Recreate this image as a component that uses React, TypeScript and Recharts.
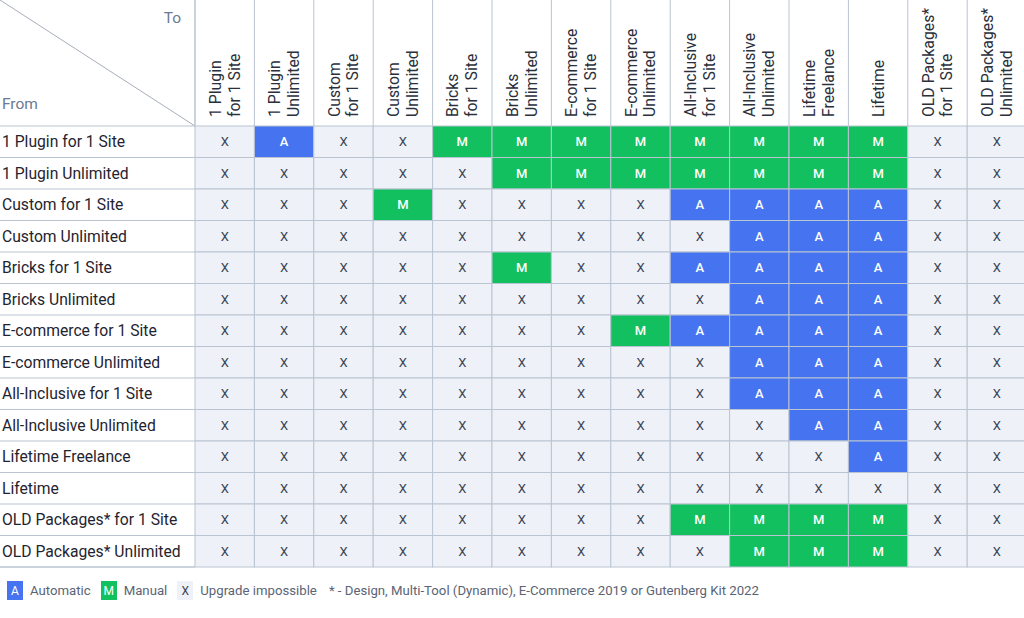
import React from 'react';
import { ScatterChart, Scatter, XAxis, YAxis } from 'recharts';

const ROWS = [
  '1 Plugin for 1 Site',
  '1 Plugin Unlimited',
  'Custom for 1 Site',
  'Custom Unlimited',
  'Bricks for 1 Site',
  'Bricks Unlimited',
  'E-commerce for 1 Site',
  'E-commerce Unlimited',
  'All-Inclusive for 1 Site',
  'All-Inclusive Unlimited',
  'Lifetime Freelance',
  'Lifetime',
  'OLD Packages* for 1 Site',
  'OLD Packages* Unlimited',
];

const COL_LINE1 = [
  '1 Plugin', '1 Plugin', 'Custom', 'Custom', 'Bricks', 'Bricks', 'E-commerce',
  'E-commerce', 'All-Inclusive', 'All-Inclusive', 'Lifetime', 'Lifetime', 'OLD Packages*', 'OLD Packages*',
];
const COL_LINE2 = [
  'for 1 Site', 'Unlimited', 'for 1 Site', 'Unlimited', 'for 1 Site', 'Unlimited', 'for 1 Site',
  'Unlimited', 'for 1 Site', 'Unlimited', 'Freelance', '', 'for 1 Site', 'Unlimited',
];

// one string per "From" row, one letter per "To" column
const MATRIX = [
  'XAXXMMMMMMMMXX',
  'XXXXXMMMMMMMXX',
  'XXXMXXXXAAAAXX',
  'XXXXXXXXXAAAXX',
  'XXXXXMXXAAAAXX',
  'XXXXXXXXXAAAXX',
  'XXXXXXXMAAAAXX',
  'XXXXXXXXXAAAXX',
  'XXXXXXXXXAAAXX',
  'XXXXXXXXXXAAXX',
  'XXXXXXXXXXXAXX',
  'XXXXXXXXXXXXXX',
  'XXXXXXXXMMMMXX',
  'XXXXXXXXXMMMXX',
];

const LEGEND = [
  { key: 'A', label: 'Automatic' },
  { key: 'M', label: 'Manual' },
  { key: 'X', label: 'Upgrade impossible' },
];
const FOOTNOTE = '* - Design, Multi-Tool (Dynamic), E-Commerce 2019 or Gutenberg Kit 2022';

const FILL: Record<string, string> = { A: '#4674F0', M: '#12C05F', X: '#EEF2F8' };
const INK: Record<string, string> = { A: '#ffffff', M: '#ffffff', X: '#3a4252' };
const BORDER = '#BAC4D2';
const FONT = 'Roboto, "Noto Sans", sans-serif';

const LABEL_W = 195;
const HEAD_H = 126;
const N = 14;
const CELL_W = 59.4;
const PLOT_W = CELL_W * N;
const W = LABEL_W + PLOT_W;
const ROW_H = 31.5;
const PLOT_H = ROW_H * N;
const CH_H = HEAD_H + PLOT_H + 2;

const cells = MATRIX.flatMap((row, r) =>
  row.split('').map((v, c) => ({ x: c + 0.5, y: r + 0.5, v }))
);
const ticks = ROWS.map((_, i) => i + 0.5);

const CellShape = (props: any) => {
  const { cx, cy, payload } = props;
  const v = payload.v;
  return (
    <g>
      <rect x={cx - CELL_W / 2} y={cy - ROW_H / 2} width={CELL_W} height={ROW_H}
        fill={FILL[v]} stroke={BORDER} strokeWidth={1} />
      <text x={cx} y={cy} textAnchor="middle" dominantBaseline="central"
        fill={INK[v]} fontSize={13} fontFamily={FONT} fontWeight={v === 'X' ? 400 : 500}>
        {v}
      </text>
    </g>
  );
};

const HeaderTick = (props: any) => {
  const { x, payload } = props;
  const i = Math.floor(payload.value);
  const two = COL_LINE2[i] !== '';
  return (
    <g>
      <line x1={x - CELL_W / 2} x2={x - CELL_W / 2} y1={0} y2={HEAD_H} stroke={BORDER} />
      {i === N - 1 && <line x1={x + CELL_W / 2} x2={x + CELL_W / 2} y1={0} y2={HEAD_H} stroke={BORDER} />}
      <g transform={`translate(${x}, 117) rotate(-90)`}>
        <text x={0} y={two ? -9.5 : 0} dominantBaseline="central" textAnchor="start"
          fill="#2a303c" fontSize={15.8} fontFamily={FONT}>{COL_LINE1[i]}</text>
        {two && (
          <text x={0} y={9.5} dominantBaseline="central" textAnchor="start"
            fill="#2a303c" fontSize={15.8} fontFamily={FONT}>{COL_LINE2[i]}</text>
        )}
      </g>
    </g>
  );
};

const RowTick = (props: any) => {
  const { y, payload } = props;
  const i = Math.floor(payload.value);
  return (
    <g>
      <line x1={0} x2={LABEL_W} y1={y - ROW_H / 2} y2={y - ROW_H / 2} stroke={BORDER} />
      {i === N - 1 && <line x1={0} x2={LABEL_W} y1={y + ROW_H / 2} y2={y + ROW_H / 2} stroke={BORDER} strokeWidth={1.5} />}
      <text x={2} y={y} dominantBaseline="central" textAnchor="start"
        fill="#1f2430" fontSize={15.7} fontFamily={FONT}>{ROWS[i]}</text>
    </g>
  );
};

export default function App() {
  return (
    <div style={{ position: 'absolute', left: 0, top: 0, width: 1024, height: 618, overflow: 'hidden', background: '#fff', fontFamily: FONT }}>
      <ScatterChart width={W} height={CH_H} margin={{ top: 0, right: 0, bottom: 2, left: 0 }}>
        <XAxis type="number" dataKey="x" orientation="top" domain={[0, N]} ticks={ticks}
          interval={0} height={HEAD_H} axisLine={false} tickLine={false} tick={<HeaderTick />} />
        <YAxis type="number" dataKey="y" domain={[0, N]} reversed ticks={ticks}
          interval={0} width={LABEL_W} axisLine={false} tickLine={false} tick={<RowTick />} />
        <Scatter data={cells} shape={<CellShape />} isAnimationActive={false} />
      </ScatterChart>
      <svg width={LABEL_W + 1} height={HEAD_H + 1}
        style={{ position: 'absolute', left: 0, top: 0, pointerEvents: 'none' }}>
        <line x1={0} y1={0} x2={LABEL_W} y2={HEAD_H} stroke="#a6aeba" strokeWidth={1} />
        <line x1={LABEL_W} y1={0} x2={LABEL_W} y2={HEAD_H} stroke={BORDER} />
        <text x={181} y={18} textAnchor="end" dominantBaseline="central" fill="#6b7a90" fontSize={15.5} fontFamily={FONT}>To</text>
        <text x={2} y={104} dominantBaseline="central" fill="#6b7a90" fontSize={15.5} fontFamily={FONT}>From</text>
      </svg>
      <div style={{ position: 'absolute', left: 7, top: 581, display: 'flex', alignItems: 'center', fontSize: 13.2, color: '#5a6475' }}>
        {LEGEND.map((l) => (
          <div key={l.key} style={{ display: 'flex', alignItems: 'center', marginRight: l.key === 'X' ? 12 : 10 }}>
            <div style={{ width: 16, height: 19, background: FILL[l.key], color: INK[l.key], display: 'flex', alignItems: 'center', justifyContent: 'center', fontSize: 12, marginRight: 7 }}>{l.key}</div>
            <span>{l.label}</span>
          </div>
        ))}
        <span>{FOOTNOTE}</span>
      </div>
    </div>
  );
}
